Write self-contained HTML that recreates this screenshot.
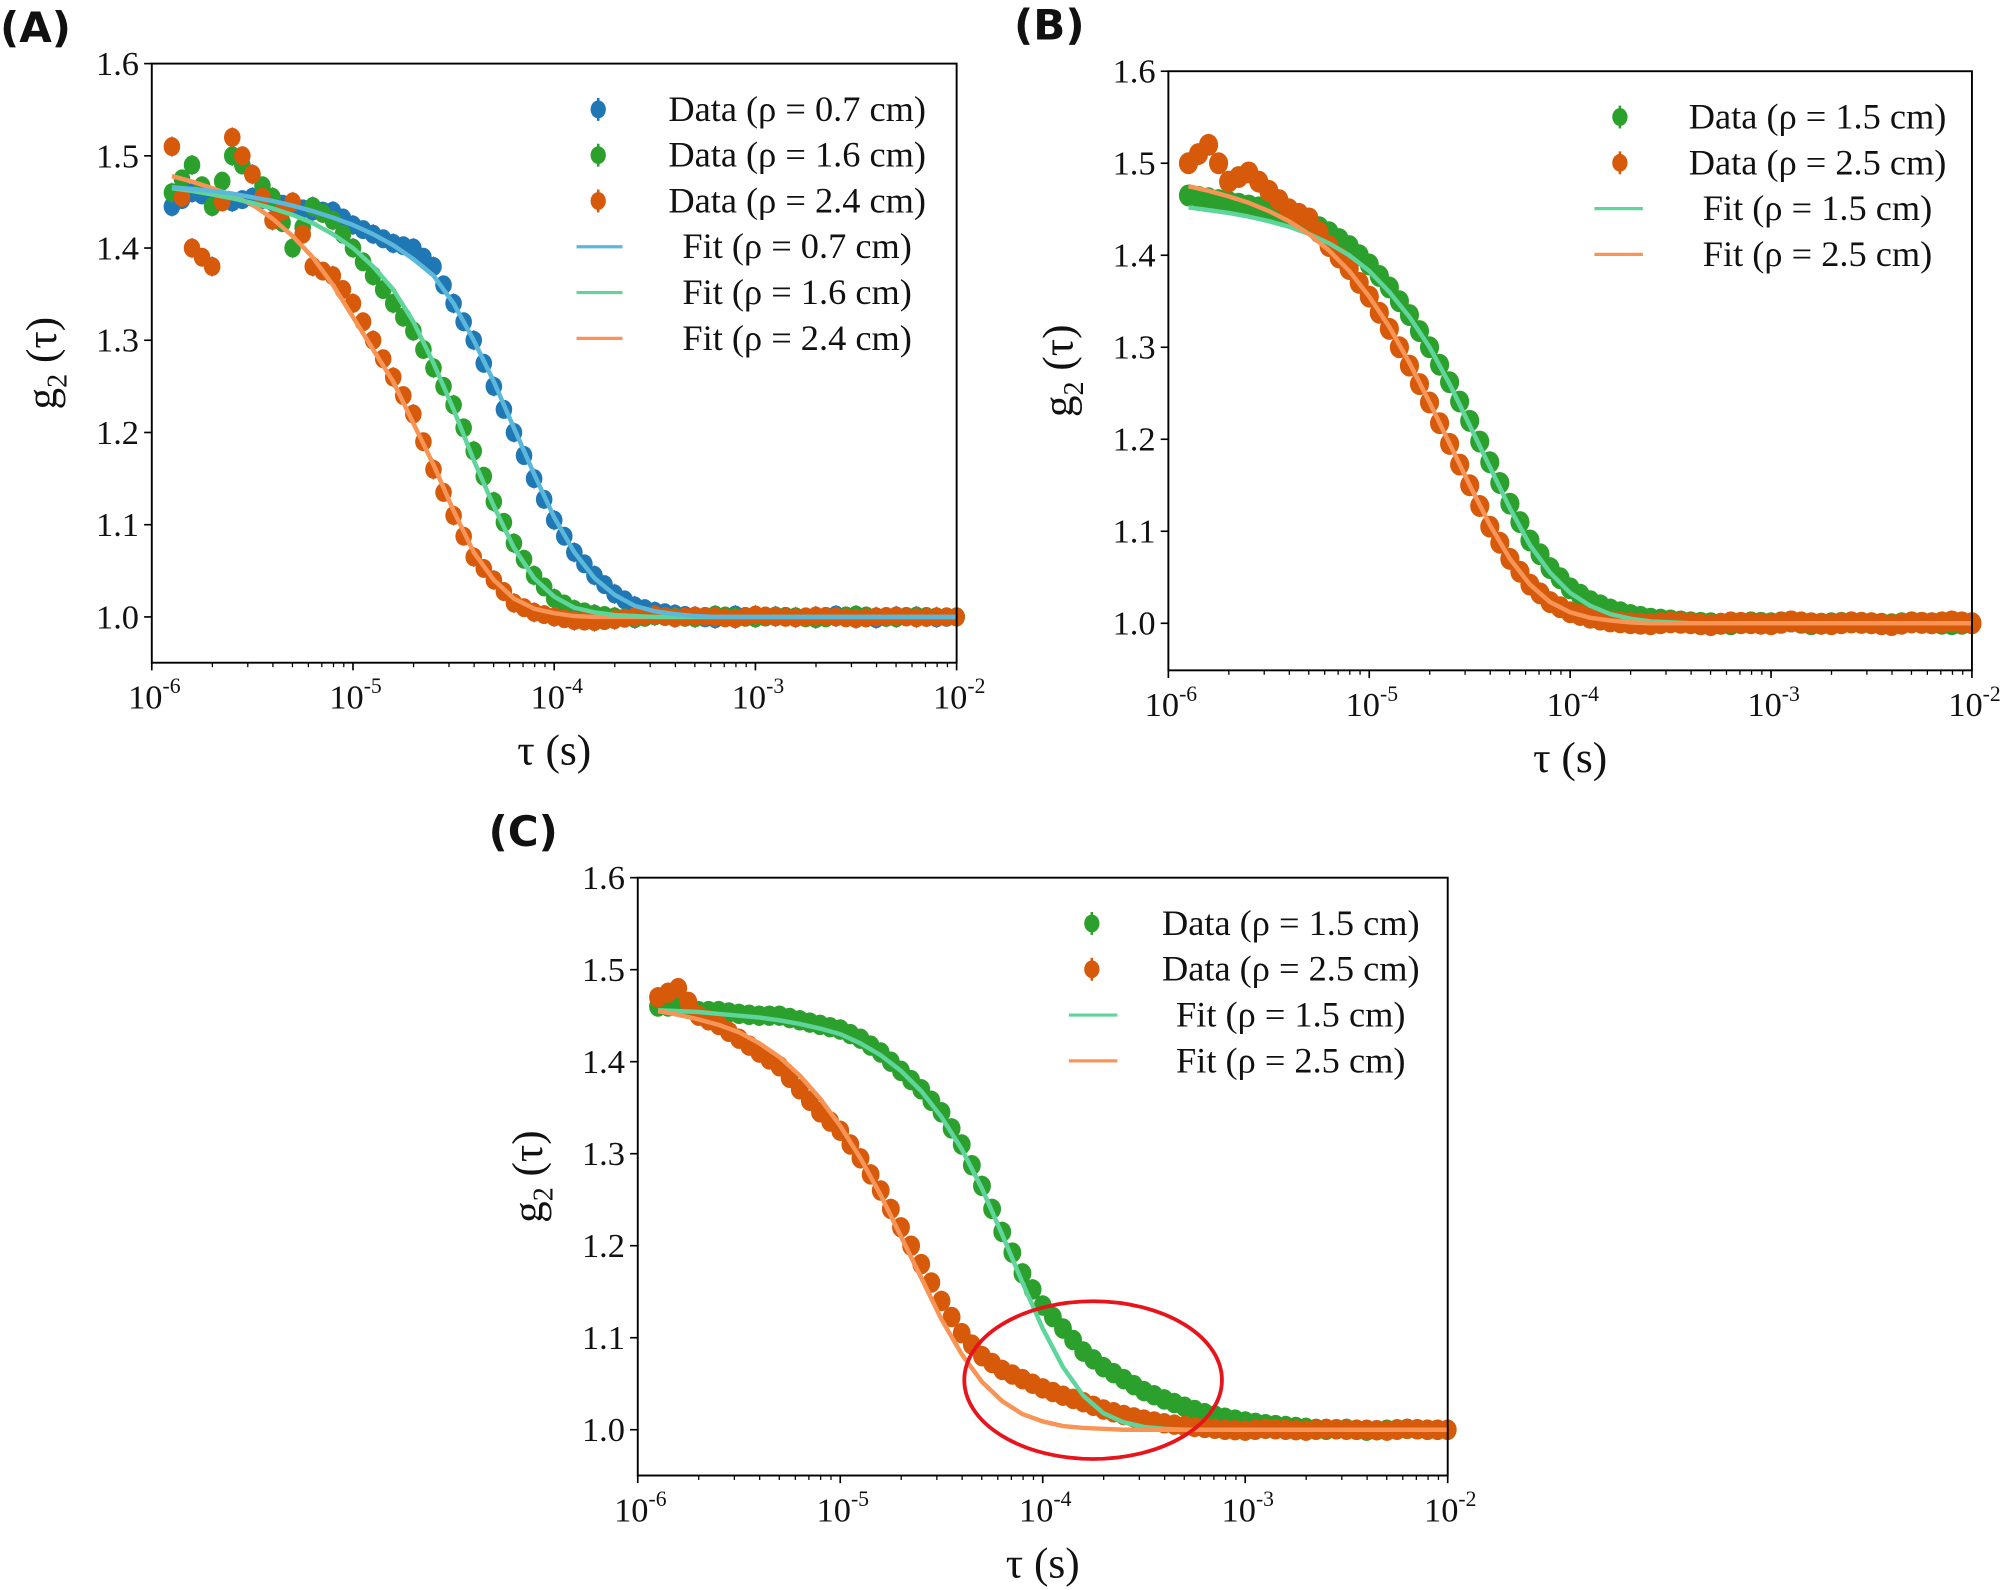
<!DOCTYPE html>
<html><head><meta charset="utf-8"><style>
html,body{margin:0;padding:0;background:#fff;}
svg{display:block;}
text{font-family:"Liberation Serif",serif;fill:#111;}
.lab{font-family:"DejaVu Sans","Liberation Sans",sans-serif;font-weight:bold;}
</style></head><body>
<svg id="fig" width="2000" height="1590" viewBox="0 0 1568 1250" preserveAspectRatio="none" xmlns="http://www.w3.org/2000/svg">
<text class="lab" x="0" y="33" font-size="33">(A)</text>
<text class="lab" x="795" y="31" font-size="33">(B)</text>
<text class="lab" x="383" y="665" font-size="33">(C)</text>
</svg>
<script>
const logTau = [-5.9,-5.8,-5.7,-5.6,-5.5,-5.4,-5.3,-5.2,-5.1,-5.0,-4.9,-4.8,-4.7,-4.6,-4.5,-4.4,-4.3,-4.2,-4.1,-4.0,-3.9,-3.8,-3.7,-3.6,-3.5,-3.4,-3.3,-3.2,-3.1,-3.0,-2.9,-2.8,-2.7,-2.6,-2.5,-2.4,-2.3,-2.2,-2.1,-2.0];
const yTicks = [1.0,1.1,1.2,1.3,1.4,1.5,1.6];
const xTickExps = [-6,-5,-4,-3,-2];
const ones = n => Array(n).fill(1.0);
// Panel A
const aData07 = [1.445,1.46,1.455,1.45,1.455,1.45,1.445,1.44,1.44,1.425,1.415,1.405,1.40,1.38,1.34,1.30,1.25,1.20,1.15,1.105,1.07,1.045,1.025,1.012,1.006,1.003,1.0,0.998,1.002,0.999,1.001,1.0,0.999,1.002,1.0,0.998,1.001,1.0,0.999,1.0];
const aData16 = [1.46,1.49,1.445,1.50,1.48,1.455,1.40,1.445,1.43,1.40,1.37,1.34,1.31,1.27,1.23,1.18,1.125,1.08,1.045,1.02,1.008,1.003,1.0,0.998,1.001,1.0,0.999,1.002,1.0,0.999,1.001,1.0,0.998,1.0,1.002,1.0,0.999,1.001,1.0,1.0];
const aData24 = [1.51,1.40,1.38,1.52,1.48,1.43,1.45,1.38,1.37,1.34,1.30,1.26,1.22,1.16,1.11,1.065,1.04,1.015,1.005,1.0,0.996,0.995,0.997,1.0,1.002,0.999,1.001,1.0,0.998,1.002,1.0,0.999,1.001,1.0,0.998,1.0,1.001,0.999,1.0,1.0];
const aFit07 = [1.466,1.464,1.462,1.459,1.455,1.451,1.446,1.44,1.433,1.425,1.415,1.403,1.388,1.37,1.34,1.30,1.255,1.205,1.155,1.108,1.07,1.042,1.024,1.012,1.006,1.003,1.001].concat(ones(13));
const aFit16 = [1.465,1.462,1.458,1.454,1.449,1.443,1.436,1.427,1.415,1.40,1.38,1.355,1.32,1.275,1.225,1.17,1.12,1.075,1.042,1.022,1.01,1.005,1.002,1.001].concat(ones(16));
const aFit24 = [1.478,1.472,1.465,1.457,1.447,1.432,1.413,1.39,1.36,1.325,1.29,1.255,1.21,1.165,1.115,1.07,1.04,1.02,1.009,1.004,1.001].concat(ones(19));
// Panel B
const bData15 = [1.465,1.462,1.458,1.454,1.45,1.444,1.436,1.425,1.41,1.39,1.365,1.335,1.30,1.262,1.22,1.175,1.13,1.09,1.06,1.038,1.024,1.015,1.009,1.005,1.003,1.001,1.0,0.999,1.001,1.0,1.002,0.999,1.0,1.001,1.0,0.999,1.001,1.0,0.999,1.0];
const bData25 = [1.50,1.52,1.48,1.49,1.47,1.45,1.44,1.41,1.385,1.355,1.32,1.28,1.24,1.195,1.15,1.105,1.07,1.042,1.023,1.012,1.006,1.002,1.0,0.999,1.001,1.0,0.998,1.001,1.0,0.999,1.002,1.0,0.999,1.001,1.0,0.998,1.001,1.0,1.002,1.0];
const bFit15 = [1.452,1.449,1.446,1.442,1.437,1.431,1.423,1.413,1.40,1.383,1.36,1.333,1.30,1.26,1.215,1.17,1.125,1.085,1.055,1.033,1.019,1.01,1.005,1.002,1.001].concat(ones(15));
const bFit25 = [1.475,1.47,1.464,1.457,1.448,1.437,1.423,1.405,1.383,1.355,1.322,1.283,1.24,1.195,1.15,1.107,1.07,1.042,1.023,1.012,1.006,1.003,1.001].concat(ones(17));
// Panel C
const cData15 = [1.46,1.46,1.455,1.455,1.452,1.45,1.45,1.445,1.44,1.435,1.425,1.41,1.39,1.37,1.345,1.31,1.265,1.215,1.17,1.135,1.11,1.085,1.068,1.055,1.042,1.033,1.025,1.018,1.013,1.009,1.006,1.004,1.002,1.0,1.001,0.999,1.0,1.001,1.0,1.0];
const cData25 = [1.47,1.48,1.45,1.44,1.425,1.41,1.395,1.37,1.345,1.325,1.295,1.26,1.22,1.18,1.14,1.105,1.08,1.065,1.055,1.045,1.037,1.03,1.022,1.016,1.011,1.007,1.004,1.002,1.0,0.999,1.001,1.0,0.999,1.001,1.0,1.0,0.999,1.001,1.0,1.0];
const cFit15 = [1.456,1.455,1.454,1.452,1.45,1.448,1.445,1.441,1.436,1.43,1.42,1.407,1.39,1.368,1.34,1.305,1.262,1.212,1.16,1.11,1.068,1.037,1.018,1.008,1.003,1.001].concat(ones(14));
const cFit25 = [1.455,1.451,1.446,1.44,1.432,1.42,1.405,1.385,1.36,1.33,1.295,1.255,1.21,1.165,1.12,1.082,1.052,1.031,1.017,1.009,1.004,1.002,1.001].concat(ones(17));

const NS = 'http://www.w3.org/2000/svg';
const svg = document.getElementById('fig');
function mk(tag, attrs, parent){const e=document.createElementNS(NS,tag);for(const k in attrs)e.setAttribute(k,attrs[k]);(parent||svg).appendChild(e);return e;}
const C = {blue:'#1f77b4',green:'#2ca02c',orange:'#d65a0a',fblue:'#5bb8da',fgreen:'#5fd49b',forange:'#f79456'};

function panel(p){
  const g = mk('g',{});
  
  
  const X = e => p.L + (e + 6) / 4 * (p.R - p.L);
  const Y = v => p.y1 - (v - 1.0) / 0.6 * (p.y1 - p.y16);
  p.series.forEach(s=>{
    if(s.fit) return;
    const sg = mk('g',{},g);
    
    
    s.vals.forEach((v,i)=>{
      mk('line',{x1:X(logTau[i]),x2:X(logTau[i]),y1:Y(v)-8,y2:Y(v)+8,stroke:'#8a6bd0','stroke-width':1},sg);
      const c = mk('ellipse',{cx:X(logTau[i]),cy:Y(v),rx:p.r,ry:p.r*1.15,fill:s.color},sg);
      
      
      if(i<39){
        mk('ellipse',{cx:(X(logTau[i])+X(logTau[i+1]))/2,cy:Y((v+s.vals[i+1])/2),rx:p.r,ry:p.r*1.15,fill:s.color},sg);
      }
    });
  });
  p.series.forEach(s=>{
    if(!s.fit) return;
    const pts = s.vals.map((v,i)=>X(logTau[i]).toFixed(1)+','+Y(v).toFixed(1)).join(' ');
    const l = mk('polyline',{points:pts,fill:'none',stroke:s.color,'stroke-width':3.5,'stroke-linejoin':'round'},g);
    
    
  });
  const f = mk('rect',{x:p.L,y:p.T,width:p.R-p.L,height:p.B-p.T,fill:'none',stroke:'#000','stroke-width':1.5},g);
  
  
  yTicks.forEach(t=>{
    mk('line',{x1:p.L-6,x2:p.L,y1:Y(t),y2:Y(t),stroke:'#000','stroke-width':1.3},g);
    const tx = mk('text',{x:p.L-10,y:Y(t)+9,'font-size':27,'text-anchor':'end'},g);
    tx.textContent = t.toFixed(1);
    
    
  });
  xTickExps.forEach(e=>{
    mk('line',{x1:X(e),x2:X(e),y1:p.B,y2:p.B+6,stroke:'#000','stroke-width':1.3},g);
    const tx = mk('text',{x:X(e)+2,y:p.B+36,'font-size':27,'text-anchor':'middle'},g);
    
    
    const t1 = mk('tspan',{},tx); t1.textContent='10';
    const t2 = mk('tspan',{'font-size':17,dy:-12},tx); t2.textContent=String(e);
    if(e<-2) for(let m=2;m<10;m++){
      const xm = X(e+Math.log10(m));
      mk('line',{x1:xm,x2:xm,y1:p.B,y2:p.B+3.5,stroke:'#000','stroke-width':1},g);
    }
  });
  const xl = mk('text',{x:(p.L+p.R)/2,y:p.B+80,'font-size':34,'text-anchor':'middle'},g);
  xl.textContent='τ (s)';
  
  
  const yc = (p.T+p.B)/2;
  const yl = mk('text',{x:0,y:0,'font-size':34,'text-anchor':'middle',transform:`translate(${p.L-75},${yc}) rotate(-90)`},g);
  
  
  const a=mk('tspan',{},yl);a.textContent='g';
  const b=mk('tspan',{'font-size':22,dy:8},yl);b.textContent='2';
  const c2=mk('tspan',{dy:-8},yl);c2.textContent=' (τ)';
  p.legend.forEach((it,i)=>{
    const y = p.lg.y + i*36;
    const lg = mk('g',{},g);
    
    
    if(it.fit){
      mk('line',{x1:p.lg.lx1,x2:p.lg.lx2,y1:y,y2:y,stroke:it.color,'stroke-width':2.5},lg);
    } else {
      mk('line',{x1:p.lg.mx,x2:p.lg.mx,y1:y-9,y2:y+9,stroke:it.color,'stroke-width':2},lg);
      mk('ellipse',{cx:p.lg.mx,cy:y,rx:6,ry:7,fill:it.color},lg);
    }
    const t = mk('text',{x:it.fit?p.lg.fx:p.lg.tx,y:y+9,'font-size':28.5},lg);
    t.textContent = it.label;
  });
}

panel({name:'panel-a-chart',L:119,R:750,T:50,B:521,y1:485,y16:50,r:6.5,
  series:[
    {key:'data-0.7',vals:aData07,color:C.blue},
    {key:'data-1.6',vals:aData16,color:C.green},
    {key:'data-2.4',vals:aData24,color:C.orange},
    {key:'fit-2.4',vals:aFit24,color:C.forange,fit:true},
    {key:'fit-1.6',vals:aFit16,color:C.fgreen,fit:true},
    {key:'fit-0.7',vals:aFit07,color:C.fblue,fit:true}],
  lg:{y:86,mx:469,tx:524,lx1:452,lx2:488,fx:535},
  legend:[{label:'Data (ρ = 0.7 cm)',color:C.blue},{label:'Data (ρ = 1.6 cm)',color:C.green},{label:'Data (ρ = 2.4 cm)',color:C.orange},
    {label:'Fit (ρ = 0.7 cm)',color:C.fblue,fit:true},{label:'Fit (ρ = 1.6 cm)',color:C.fgreen,fit:true},{label:'Fit (ρ = 2.4 cm)',color:C.forange,fit:true}]});

panel({name:'panel-b-chart',L:916,R:1546,T:56,B:527,y1:490,y16:56,r:7.5,
  series:[
    {key:'data-1.5',vals:bData15,color:C.green},
    {key:'data-2.5',vals:bData25,color:C.orange},
    {key:'fit-1.5',vals:bFit15,color:C.fgreen,fit:true},
    {key:'fit-2.5',vals:bFit25,color:C.forange,fit:true}],
  lg:{y:92,mx:1270,tx:1324,lx1:1250,lx2:1288,fx:1335},
  legend:[{label:'Data (ρ = 1.5 cm)',color:C.green},{label:'Data (ρ = 2.5 cm)',color:C.orange},
    {label:'Fit (ρ = 1.5 cm)',color:C.fgreen,fit:true},{label:'Fit (ρ = 2.5 cm)',color:C.forange,fit:true}]});

panel({name:'panel-c-chart',L:500,R:1135,T:690,B:1160,y1:1124,y16:690,r:7,
  series:[
    {key:'data-1.5',vals:cData15,color:C.green},
    {key:'data-2.5',vals:cData25,color:C.orange},
    {key:'fit-1.5',vals:cFit15,color:C.fgreen,fit:true},
    {key:'fit-2.5',vals:cFit25,color:C.forange,fit:true}],
  lg:{y:726,mx:856,tx:911,lx1:838,lx2:876,fx:922},
  legend:[{label:'Data (ρ = 1.5 cm)',color:C.green},{label:'Data (ρ = 2.5 cm)',color:C.orange},
    {label:'Fit (ρ = 1.5 cm)',color:C.fgreen,fit:true},{label:'Fit (ρ = 2.5 cm)',color:C.forange,fit:true}]});

const ell = mk('ellipse',{cx:857,cy:1085,rx:101,ry:62,fill:'none',stroke:'#e8141c','stroke-width':3});


</script>
</body></html>
